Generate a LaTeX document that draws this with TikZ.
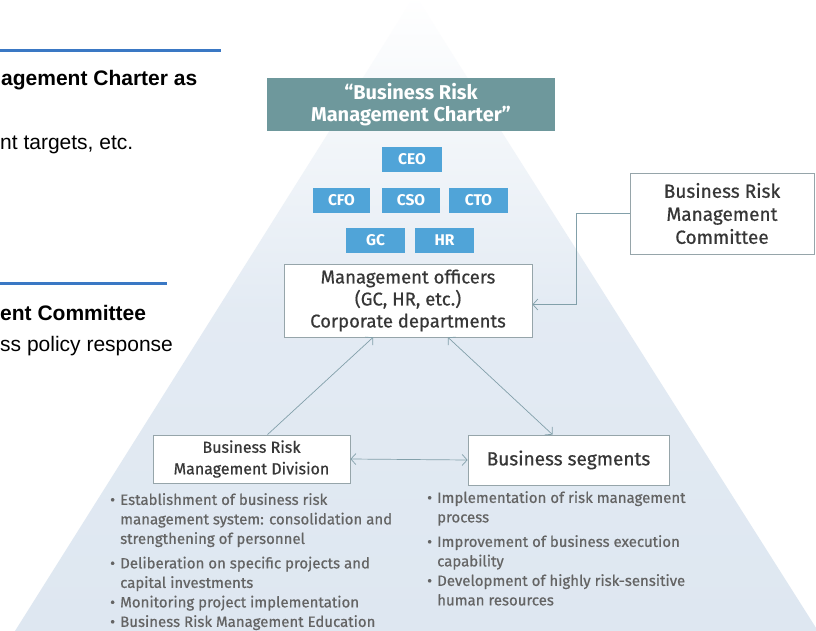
\documentclass[tikz,border=0pt]{standalone}
\usepackage{fontspec}
\setmainfont{Fira Sans}[UprightFeatures={FakeBold=0.6}]
\newfontfamily\arialfont{Liberation Sans}
\usetikzlibrary{arrows.meta}

\definecolor{pyramid}{RGB}{222,231,241}
\definecolor{charterfill}{RGB}{110,152,156}
\definecolor{officerfill}{RGB}{80,164,216}
\definecolor{rulecol}{RGB}{58,120,196}
\definecolor{boxline}{RGB}{150,165,170}
\definecolor{connline}{RGB}{130,160,170}
\definecolor{darktext}{RGB}{55,55,55}
\definecolor{bullettext}{RGB}{100,100,100}

\newcommand{\bul}{\makebox[10pt][l]{\textbullet}}
\newcommand{\ind}{\hspace*{10pt}}

\begin{document}
\begin{tikzpicture}[x=1pt,y=-1pt,
  barb/.tip={Straight Barb[length=5pt,width=11pt]},
  whitebox/.style={draw=boxline,fill=white,line width=0.8pt,align=center,
    text=darktext,inner sep=0pt},
  officer/.style={fill=officerfill,text=white,font=\bfseries\fontsize{15.5}{17}\selectfont,
    minimum height=25pt,inner sep=0pt},
  conn/.style={draw=connline,line width=0.7pt},
  bullets/.style={align=left,anchor=north west,inner sep=0pt,text=bullettext,
    font=\fontsize{15}{19.5}\selectfont},
  sidebold/.style={anchor=west,inner sep=0pt,font=\arialfont\bfseries\fontsize{21}{24}\selectfont},
  sidetext/.style={anchor=west,inner sep=0pt,font=\arialfont\fontsize{21}{24}\selectfont}
  ]
    \useasboundingbox (0,0) rectangle (816,631);
    \clip (0,0) rectangle (816,631);
    \fill[white] (0,0) rectangle (816,631);
    \shade[top color=white,bottom color=pyramid,middle color=pyramid!85]
      (415,-5) -- (818,631) -- (15,631) -- cycle;

    \draw[rulecol,line width=3pt] (0,51) -- (221,51);
    \node[sidebold] (charterhead) at (1,80) {agement Charter as};
    \node[sidetext] (charterline) at (0,145) {nt targets, etc.};
    \draw[rulecol,line width=3pt] (0,283) -- (167,283);
    \node[sidebold] (committeehead) at (0,313) {ent Committee};
    \node[sidetext] (committeeline) at (0,346) {ss policy response};

    \node[fill=charterfill,text=white,minimum width=288pt,minimum height=53pt,
      inner sep=0pt,align=center,font=\bfseries\fontsize{20}{22}\selectfont]
      (charter) at (411,104.5) {“Business Risk\\Management Charter”};

    \node[officer,minimum width=60pt] (ceo) at (412,159.5) {CEO};
    \node[officer,minimum width=57pt] (cfo) at (341.5,200.5) {CFO};
    \node[officer,minimum width=58pt] (cso) at (411,200.5) {CSO};
    \node[officer,minimum width=59pt] (cto) at (478.5,200.5) {CTO};
    \node[officer,minimum width=59pt] (gc) at (375.5,240.5) {GC};
    \node[officer,minimum width=59pt] (hr) at (444.5,240.5) {HR};

    \node[whitebox,minimum width=248pt,minimum height=73pt,
      font=\fontsize{18.5}{22}\selectfont]
      (mgmt) at (408,300.5) {Management officers\\(GC, HR, etc.)\\Corporate departments};
    \node[whitebox,minimum width=184pt,minimum height=81pt,
      font=\fontsize{19}{23}\selectfont]
      (comm) at (722,213.5) {Business Risk\\Management\\Committee};
    \node[whitebox,minimum width=197pt,minimum height=48pt,
      font=\fontsize{16}{21.5}\selectfont]
      (div) at (251.5,459) {Business Risk\\Management Division};
    \node[whitebox,minimum width=201pt,minimum height=50pt,
      font=\fontsize{19}{21}\selectfont]
      (seg) at (568.5,460) {Business segments};

    \draw[conn,-{barb}] (comm.west) -- ++(-53,0) |- ([yshift=-4pt]mgmt.east);
    \draw[conn,-{barb}] ([xshift=16pt]div.north) -- ([xshift=-35pt]mgmt.south);
    \draw[conn,{barb}-{barb}] ([xshift=40pt]mgmt.south) -- ([xshift=-16pt]seg.north);
    \draw[conn,{barb}-{barb}] (div.east) -- (seg.west);

    \node[bullets] (divlist) at (110,493) {%
      \bul Establishment of business risk\\
      \ind management system: consolidation and\\
      \ind strengthening of personnel\\[5pt]
      \bul Deliberation on specific projects and\\
      \ind capital investments\\
      \bul Monitoring project implementation\\
      \bul Business Risk Management Education};
    \node[bullets] (seglist) at (427,491) {%
      \bul Implementation of risk management\\
      \ind process\\[5pt]
      \bul Improvement of business execution\\
      \ind capability\\
      \bul Development of highly risk-sensitive\\
      \ind human resources};
\end{tikzpicture}
\end{document}
